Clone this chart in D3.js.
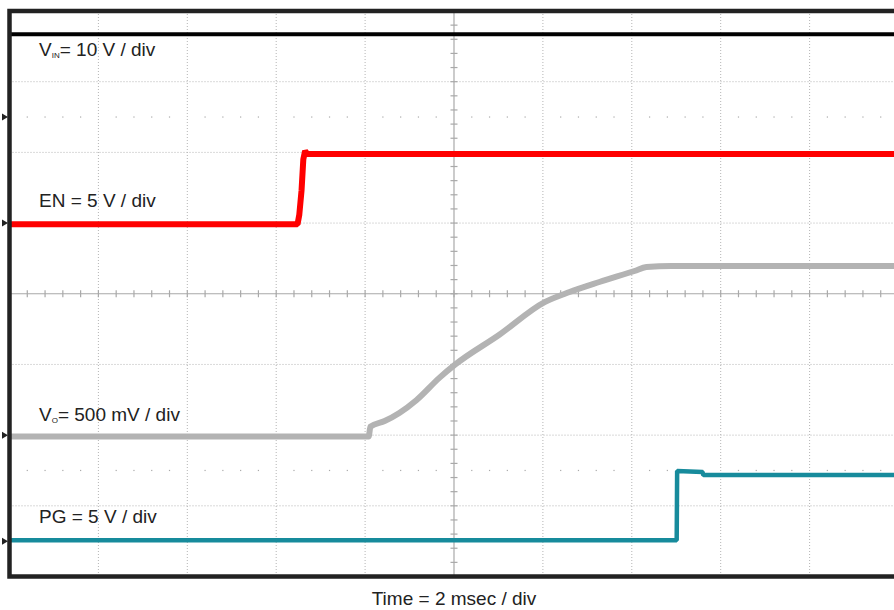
<!DOCTYPE html>
<html>
<head>
<meta charset="utf-8">
<script src="https://cdn.jsdelivr.net/npm/d3@7"></script>
<style>
  body { margin: 0; background: #fff; }
  text { font-family: "Liberation Sans", Arial, sans-serif; fill: #222; }
</style>
</head>
<body>
<div id="scope"></div>
<script>
// time base (ms) and screen divisions
const timeDomain = [0, 20]
const divDomain = [-4, 4]
const xMajor = d3.range(0, 21, 2)
const yMajor = d3.range(-4, 5, 1)

// channel settings
const chNames = ["VIN", "EN", "VO", "PG"]
const chVoltsPerDiv = [10, 5, 0.5, 5]
const chGroundDiv = [2.5, 1, -2, -3.5]
const chColors = ["#000000", "#ff0000", "#b3b3b3", "#178b9c"]
const chWidths = [4, 6, 6, 4.5]

// traces (time in ms, value in V)
const vinTime = [0, 20]
const vinVolts = [11.7, 11.7]

const enTime = [0, 6.48, 6.52, 6.57, 6.61, 6.65, 6.70, 20]
const enVolts = [-0.08, -0.08, 0.6, 2.3, 4.5, 5.1, 4.88, 4.88]

const voTime = [0, 8.01, 8.08, 8.12, 8.44, 8.77, 9.16, 9.67, 10.03, 11.02, 12.04, 12.6, 13.27, 14.06, 14.33, 14.89, 20]
const voVolts = [-0.01, -0.01, -0.01, 0.06, 0.10, 0.157, 0.249, 0.405, 0.50, 0.71, 0.941, 1.012, 1.083, 1.161, 1.189, 1.196, 1.196]

const pgTime = [0, 15.01, 15.02, 15.59, 15.61, 20]
const pgVolts = [0.06, 0.06, 4.96, 4.89, 4.68, 4.68]

const traceTimes = [vinTime, enTime, voTime, pgTime]
const traceVolts = [vinVolts, enVolts, voVolts, pgVolts]

const W = 894, H = 610

const svg = d3.select("#scope")
  .append("svg")
  .attr("width", W)
  .attr("height", H)

const x = d3.scaleLinear().domain(timeDomain).range([9.5, 898.5])
const y = d3.scaleLinear().domain(divDomain).range([576.5, 11])

// dotted graticule
const grid = svg.append("g")
grid.selectAll("line.vg")
  .data(xMajor.filter(d => d !== 10 && d !== 0))
  .join("line")
  .attr("x1", d => x(d)).attr("x2", d => x(d))
  .attr("y1", y(4)).attr("y2", y(-4))
  .attr("stroke", "#b4b4b4")
  .attr("stroke-dasharray", "1,2")
grid.selectAll("line.hg")
  .data(yMajor.filter(d => d !== 0 && Math.abs(d) !== 4))
  .join("line")
  .attr("x1", x(0)).attr("x2", x(20))
  .attr("y1", d => y(d)).attr("y2", d => y(d))
  .attr("stroke", "#b4b4b4")
  .attr("stroke-dasharray", "1,2")

// dot rows at +/- 2.5 div
const minorX = d3.range(0, 20.01, 0.4).filter(t => Math.abs(t / 2 - Math.round(t / 2)) > 0.01)
;[2.5, -2.5].forEach(dv => {
  grid.append("g").selectAll("rect")
    .data(minorX)
    .join("rect")
    .attr("x", d => x(d) - 0.6)
    .attr("y", y(dv) - 0.6)
    .attr("width", 1.2).attr("height", 1.2)
    .attr("fill", "#aaa")
})

// centre cross with ticks
const cross = svg.append("g").attr("stroke", "#a9a9a9").attr("stroke-width", 1.2)
cross.append("line").attr("x1", x(10)).attr("x2", x(10)).attr("y1", y(4)).attr("y2", y(-4))
cross.append("line").attr("x1", x(0)).attr("x2", x(20)).attr("y1", y(0)).attr("y2", y(0))
cross.selectAll("line.tx")
  .data(d3.range(0, 20.01, 0.4))
  .join("line")
  .attr("x1", d => x(d)).attr("x2", d => x(d))
  .attr("y1", y(0) - 3.5).attr("y2", y(0) + 3.5)
cross.selectAll("line.ty")
  .data(d3.range(-4, 4.01, 0.2))
  .join("line")
  .attr("x1", x(10) - 3.5).attr("x2", x(10) + 3.5)
  .attr("y1", d => y(d)).attr("y2", d => y(d))

// traces
chNames.forEach((name, i) => {
  const pts = traceTimes[i].map((t, k) => [t, traceVolts[i][k] / chVoltsPerDiv[i] + chGroundDiv[i]])
  const line = d3.line()
    .x(d => x(d[0]))
    .y(d => y(d[1]))
    .curve(name === "VO" ? d3.curveMonotoneX : d3.curveLinear)
  svg.append("path")
    .datum(pts)
    .attr("d", line)
    .attr("fill", "none")
    .attr("stroke", chColors[i])
    .attr("stroke-width", chWidths[i])
    .attr("stroke-linejoin", "bevel")
})

// frame
svg.append("rect")
  .attr("x", x(0)).attr("y", y(4))
  .attr("width", x(20) - x(0) + 10).attr("height", y(-4) - y(4))
  .attr("fill", "none")
  .attr("stroke", "#222")
  .attr("stroke-width", 4.5)

// ground markers
svg.append("g").selectAll("path")
  .data(chGroundDiv)
  .join("path")
  .attr("d", d => `M2,${y(d) - 3.5}L8,${y(d)}L2,${y(d) + 3.5}Z`)
  .attr("fill", "#222")

// channel labels
const labelMain = ["V", "EN = 5 V / div", "V", "PG = 5 V / div"]
const labelSub = ["IN", "", "O", ""]
const labelRest = ["= 10 V / div", "", "= 500 mV / div", ""]
const labelBase = [56, 207, 421, 523]

labelMain.forEach((m, i) => {
  const t = svg.append("text")
    .attr("x", 39).attr("y", labelBase[i])
    .attr("font-size", 19)
  t.append("tspan").text(m)
  if (labelSub[i]) {
    t.append("tspan").attr("font-size", 8).attr("dy", 2).text(labelSub[i])
    t.append("tspan").attr("dy", -2).text(labelRest[i])
  }
})

svg.append("text")
  .attr("x", x(10)).attr("y", 605)
  .attr("text-anchor", "middle")
  .attr("font-size", 19)
  .text("Time = 2 msec / div")
</script>
</body>
</html>
